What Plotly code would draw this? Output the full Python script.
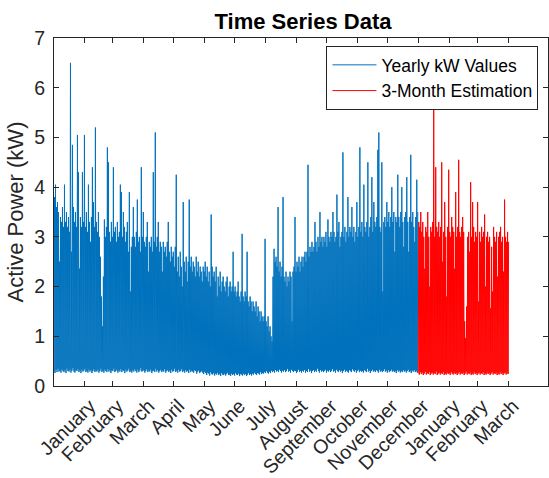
import plotly.graph_objects as go

# ---- data (one value pair per day) ----
month_labels = ["January", "February", "March", "April", "May", "June", "July",
                "August", "September", "October", "November", "December",
                "January", "February", "March"]
month_end_days = [31, 59, 90, 120, 151, 181, 212, 243, 273, 304, 334, 365, 396, 424, 455]

# daily maxima of the yearly series (kW), days 0..364
blue_hi = [
    3.8, 4.05, 3.6, 3.7, 3.5, 2.5, 3.4, 3.3, 3.6, 3.2,
    4.05, 3.3, 3.5, 3.2, 3.4, 3.1, 6.5, 2.7, 4.85, 3.6,
    3.3, 3.5, 3.2, 5.05, 4.3, 2.36, 3.4, 3.2, 4.3, 3.3,
    5.05, 3.2, 3.5, 3.1, 4.05, 3.3, 2.9, 3.4, 4.4, 3.7,
    3.2, 5.2, 3.3, 3.1, 3.5, 3.0, 2.6, 1.8, 1.2, 2.2,
    3.35, 3.0, 3.2, 4.8, 4.5, 3.1, 2.9, 3.3, 3.0, 4.4,
    3.1, 3.2, 2.9, 3.3, 3.0, 3.1, 4.05, 3.9, 3.0, 3.5,
    3.2, 2.9, 3.1, 3.3, 2.7, 3.9, 1.9, 2.8, 3.0, 3.6,
    3.0, 2.8, 3.1, 3.75, 2.9, 3.0, 2.7, 4.4, 3.0, 3.5,
    2.9, 2.8, 3.0, 3.3, 2.3, 2.9, 2.8, 3.0, 2.7, 4.3,
    2.9, 5.1, 2.8, 3.0, 3.3, 2.7, 2.9, 2.8, 2.3, 2.9,
    2.7, 2.8, 2.6, 2.9, 3.3, 2.7, 2.5, 2.8, 2.6, 2.7,
    2.4, 2.8, 4.25, 2.3, 2.6, 2.2, 2.7, 2.4, 2.0, 3.7,
    2.5, 2.3, 2.6, 2.1, 2.5, 3.75, 2.4, 2.6, 2.3, 2.5,
    2.4, 2.2, 2.6, 2.3, 2.5, 2.2, 2.4, 2.3, 2.1, 2.4,
    2.3, 2.5, 2.2, 2.4, 2.1, 2.3, 2.0, 3.45, 2.4, 2.2,
    2.3, 2.1, 2.4, 1.8, 2.2, 2.0, 2.3, 1.9, 2.1, 2.2,
    2.0, 1.9, 2.1, 2.2, 1.8, 2.0, 2.1, 1.9, 2.0, 2.7,
    1.9, 2.0, 1.8, 1.9, 2.1, 1.8, 1.7, 1.9, 3.06, 1.8,
    1.7, 1.9, 1.8, 2.7, 1.7, 1.6, 1.8, 1.7, 1.5, 1.7,
    1.6, 1.5, 1.7, 1.4, 1.6, 1.5, 1.3, 1.5, 1.4, 1.3,
    1.4, 2.96, 1.3, 1.2, 1.4, 1.1, 1.2, 1.0, 0.9, 2.2,
    2.76, 2.5, 2.6, 2.4, 3.6, 2.3, 2.5, 2.2, 2.4, 3.8,
    2.2, 2.1, 2.3, 2.0, 2.2, 2.1, 2.3, 2.2, 1.3, 2.3,
    2.4, 3.4, 2.3, 2.5, 2.4, 2.6, 2.3, 2.5, 2.6, 2.4,
    2.6, 2.7, 2.5, 2.7, 4.45, 2.6, 2.8, 2.7, 2.9, 2.7,
    2.8, 3.3, 2.9, 2.7, 3.0, 2.8, 3.5, 2.9, 3.0, 2.8,
    3.0, 2.9, 3.1, 2.8, 3.35, 3.0, 2.9, 3.1, 3.0, 3.5,
    3.1, 2.9, 3.0, 3.85, 3.1, 3.3, 2.8, 3.0, 3.1, 4.7,
    3.0, 3.2, 2.9, 3.1, 3.8, 3.0, 3.2, 3.1, 3.6, 3.0,
    3.2, 2.9, 3.1, 3.7, 3.0, 3.2, 4.8, 3.1, 3.3, 3.0,
    4.05, 3.2, 3.1, 3.3, 4.5, 3.0, 3.2, 3.4, 4.2, 3.1,
    3.7, 3.3, 3.2, 3.4, 4.75, 5.1, 3.2, 3.1, 4.5, 1.9,
    3.3, 3.4, 3.2, 3.7, 3.3, 3.5, 3.2, 3.4, 4.0, 3.3,
    3.5, 2.7, 3.4, 3.3, 4.25, 3.4, 3.2, 3.5, 4.0, 3.3,
    2.8, 3.4, 3.5, 4.2, 3.3, 2.7, 3.4, 4.65, 3.3, 3.5,
    3.2, 2.9, 3.4, 4.15, 3.5,
]

# daily minima of the yearly series (kW), days 0..364
blue_lo = [
    0.30, 0.26, 0.33, 0.28, 0.35, 0.29, 0.31, 0.27, 0.34, 0.30,
    0.28, 0.32, 0.26, 0.35, 0.30, 0.29, 0.33, 0.27, 0.31, 0.36,
    0.29, 0.27, 0.32, 0.30, 0.34, 0.28, 0.31, 0.26, 0.33, 0.29,
    0.31, 0.35, 0.28, 0.30, 0.27, 0.33, 0.29, 0.32, 0.26, 0.30,
    0.34, 0.28, 0.31, 0.29, 0.33, 0.27, 0.30, 0.35, 0.28, 0.31,
    0.27, 0.33, 0.30, 0.28, 0.34, 0.29, 0.32, 0.26, 0.31, 0.30,
    0.35, 0.28, 0.30, 0.33, 0.27, 0.31, 0.29, 0.34, 0.28, 0.32,
    0.30, 0.26, 0.33, 0.29, 0.31, 0.35, 0.28, 0.30, 0.27, 0.32,
    0.29, 0.34, 0.30, 0.27, 0.33, 0.28, 0.31, 0.36, 0.29, 0.30,
    0.32, 0.27, 0.30, 0.34, 0.28, 0.31, 0.29, 0.33, 0.26, 0.30,
    0.31, 0.28, 0.35, 0.29, 0.32, 0.27, 0.30, 0.33, 0.28, 0.31,
    0.29, 0.34, 0.27, 0.30, 0.32, 0.28, 0.31, 0.26, 0.33, 0.29,
    0.30, 0.35, 0.28, 0.31, 0.27, 0.33, 0.29, 0.30, 0.34, 0.28,
    0.31, 0.27, 0.32, 0.29, 0.30, 0.26, 0.33, 0.28, 0.31, 0.29,
    0.27, 0.32, 0.30, 0.25, 0.29, 0.31, 0.26, 0.28, 0.30, 0.27,
    0.24, 0.29, 0.26, 0.22, 0.27, 0.25, 0.21, 0.28, 0.24, 0.23,
    0.26, 0.21, 0.25, 0.23, 0.27, 0.22, 0.24, 0.20, 0.26, 0.23,
    0.22, 0.25, 0.21, 0.24, 0.27, 0.22, 0.23, 0.20, 0.25, 0.22,
    0.24, 0.21, 0.26, 0.23, 0.22, 0.25, 0.20, 0.24, 0.23, 0.21,
    0.25, 0.22, 0.24, 0.20, 0.23, 0.26, 0.22, 0.24, 0.21, 0.25,
    0.23, 0.27, 0.24, 0.22, 0.26, 0.25, 0.23, 0.28, 0.24, 0.26,
    0.25, 0.28, 0.26, 0.30, 0.27, 0.25, 0.29, 0.26, 0.31, 0.28,
    0.30, 0.27, 0.32, 0.29, 0.31, 0.28, 0.33, 0.30, 0.27, 0.31,
    0.29, 0.32, 0.28, 0.30, 0.34, 0.29, 0.31, 0.27, 0.33, 0.30,
    0.28, 0.31, 0.30, 0.26, 0.29, 0.33, 0.28, 0.30, 0.27, 0.31,
    0.29, 0.32, 0.27, 0.30, 0.28, 0.34, 0.29, 0.31, 0.26, 0.30,
    0.32, 0.28, 0.31, 0.29, 0.35, 0.30, 0.27, 0.32, 0.29, 0.31,
    0.28, 0.30, 0.33, 0.27, 0.31, 0.29, 0.32, 0.28, 0.30, 0.34,
    0.29, 0.31, 0.27, 0.33, 0.30, 0.28, 0.32, 0.29, 0.31, 0.26,
    0.30, 0.33, 0.28, 0.31, 0.29, 0.27, 0.32, 0.30, 0.28, 0.34,
    0.31, 0.29, 0.32, 0.27, 0.30, 0.33, 0.28, 0.31, 0.29, 0.30,
    0.27, 0.32, 0.30, 0.28, 0.35, 0.29, 0.31, 0.26, 0.30, 0.33,
    0.29, 0.31, 0.28, 0.32, 0.30, 0.27, 0.33, 0.29, 0.31, 0.28,
    0.30, 0.34, 0.29, 0.31, 0.27, 0.32, 0.28, 0.30, 0.33, 0.29,
    0.31, 0.28, 0.30, 0.26, 0.32, 0.29, 0.31, 0.27, 0.30, 0.28,
    0.32, 0.29, 0.31, 0.27, 0.30, 0.33, 0.28, 0.30, 0.26, 0.31,
    0.29, 0.32, 0.28, 0.30, 0.27,
]

# daily maxima of the 3-month estimation (kW), days 365..455
red_hi = [
    3.3, 3.2, 3.5, 3.1, 3.3, 3.0, 2.36, 3.2, 3.1, 3.5,
    3.0, 2.0, 3.2, 3.1, 3.3, 5.7, 3.0, 4.4, 3.2, 3.1,
    3.3, 3.0, 3.2, 4.5, 2.5, 3.1, 3.7, 3.0, 1.8, 3.2,
    4.35, 3.1, 3.0, 3.4, 3.2, 3.1, 2.36, 3.9, 3.0, 3.2,
    4.55, 3.1, 3.0, 3.2, 3.4, 3.1, 1.3, 0.96, 1.6, 3.0,
    3.1, 2.7, 4.1, 3.0, 3.7, 3.2, 2.9, 3.1, 3.0, 3.7,
    1.7, 3.1, 2.9, 3.2, 3.0, 3.1, 3.45, 2.0, 3.0, 3.1,
    2.9, 3.0, 1.56, 2.8, 1.9, 3.2, 3.0, 2.9, 3.1, 2.2,
    3.0, 3.1, 3.2, 2.9, 3.0, 2.3, 3.75, 3.0, 2.9, 3.1,
    2.9,
]

# daily minima of the 3-month estimation (kW)
red_lo = [
    0.26, 0.23, 0.28, 0.24, 0.27, 0.22, 0.25, 0.29, 0.23, 0.26,
    0.24, 0.28, 0.22, 0.25, 0.27, 0.23, 0.26, 0.24, 0.29, 0.22,
    0.25, 0.27, 0.23, 0.26, 0.24, 0.28, 0.22, 0.25, 0.23, 0.27,
    0.24, 0.26, 0.22, 0.28, 0.25, 0.23, 0.27, 0.24, 0.26, 0.22,
    0.25, 0.28, 0.23, 0.26, 0.24, 0.27, 0.22, 0.25, 0.29, 0.23,
    0.26, 0.24, 0.27, 0.22, 0.25, 0.23, 0.28, 0.24, 0.26, 0.22,
    0.25, 0.27, 0.23, 0.26, 0.24, 0.28, 0.22, 0.25, 0.23, 0.27,
    0.24, 0.26, 0.22, 0.25, 0.28, 0.23, 0.26, 0.24, 0.27, 0.22,
    0.25, 0.23, 0.28, 0.24, 0.26, 0.22, 0.25, 0.27, 0.23, 0.26,
    0.24,
]

BLUE = "#0072BD"
RED = "#FF0000"
AX = "#262626"
FONT = "Liberation Sans, Arial, Helvetica, sans-serif"


def zigzag(start_day, lo, hi):
    xs, ys = [], []
    for i, (l, h) in enumerate(zip(lo, hi)):
        xs += [start_day + i, start_day + i + 0.5]
        ys += [l, h]
    return xs, ys


bx, by = zigzag(0, blue_lo, blue_hi)
rx, ry = zigzag(len(blue_hi), red_lo, red_hi)

fig = go.Figure()
fig.add_trace(go.Scatter(x=bx, y=by, mode="lines", name="Yearly kW Values",
                         line=dict(color=BLUE, width=1)))
fig.add_trace(go.Scatter(x=rx, y=ry, mode="lines", name="3-Month Estimation",
                         line=dict(color=RED, width=1)))

axis_common = dict(
    showline=True, linecolor=AX, linewidth=1, mirror="ticks",
    ticks="inside", ticklen=5, tickcolor=AX, tickwidth=1,
    showgrid=False, zeroline=False,
)

fig.update_layout(
    width=549, height=478,
    margin=dict(l=54, r=0, t=38, b=90),
    paper_bgcolor="white", plot_bgcolor="white",
    font=dict(family=FONT, color=AX),
    title=dict(text="<b>Time Series Data</b>", font=dict(family=FONT, size=22, color="#000000"),
               x=303 / 549, xref="container", xanchor="center",
               y=1 - 21 / 478, yref="container", yanchor="middle"),
    xaxis=dict(range=[0, 495], tickvals=month_end_days, ticktext=month_labels,
               tickangle=-45, ticklabelshift=5,
               tickfont=dict(family=FONT, size=19.5, color=AX),
               **axis_common),
    yaxis=dict(range=[0, 7], tickvals=list(range(0, 8)),
               tickfont=dict(family=FONT, size=19.5, color=AX),
               title=dict(text="Active Power (kW)", font=dict(family=FONT, size=22, color=AX),
                          standoff=4),
               ticklabelstandoff=4,
               **axis_common),
    legend=dict(x=(327 - 54) / 495, y=(388 - 46) / 350, xanchor="left", yanchor="top",
                bgcolor="white", bordercolor=AX, borderwidth=1,
                font=dict(family=FONT, size=17.5, color="#000000"),
                itemwidth=44, tracegroupgap=0),
    showlegend=True,
)

fig.write_html("out.html")
